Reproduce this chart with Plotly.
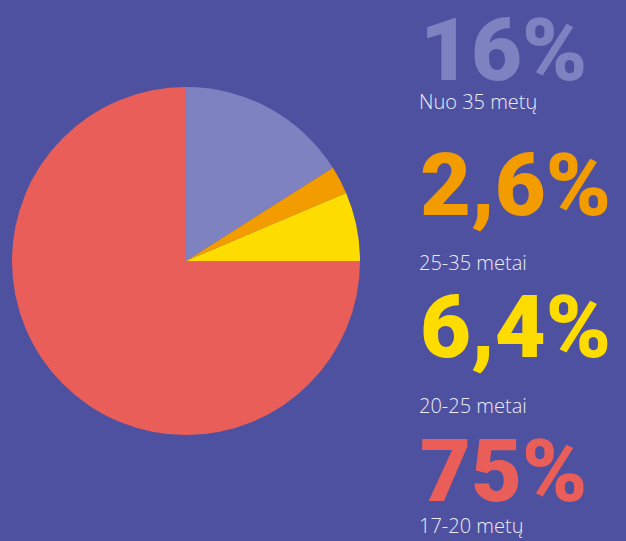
import plotly.graph_objects as go

categories = ["Nuo 35 metų", "25-35 metai", "20-25 metai", "17-20 metų"]
shares = [16, 2.6, 6.4, 75]
share_labels = ["16%", "2,6%", "6,4%", "75%"]
colors = ["#7e82c0", "#f39c00", "#ffdc00", "#e95e59"]

W, H = 626, 541
bg = "#4e51a0"

fig = go.Figure(go.Pie(
    labels=categories, values=shares, sort=False, direction="clockwise",
    rotation=0, marker=dict(colors=colors, line=dict(width=0)),
    textinfo="none", hoverinfo="label+percent",
    domain=dict(x=[12 / W, 360 / W], y=[1 - 435 / H, 1 - 87 / H]),
))

num_y = [49, 184, 326, 470]
lab_y = [102, 263, 405, 525]
anns = []
for i in range(4):
    anns.append(dict(
        text=share_labels[i], x=418 / W, y=1 - num_y[i] / H, xref="paper", yref="paper",
        xanchor="left", yanchor="middle", showarrow=False,
        font=dict(family="Roboto", size=88, color=colors[i], weight=900),
    ))
    anns.append(dict(
        text=categories[i], x=417 / W, y=1 - lab_y[i] / H, xref="paper", yref="paper",
        xanchor="left", yanchor="middle", showarrow=False,
        font=dict(family="Open Sans", size=20, color="#ececf6", weight=300),
    ))

fig.update_layout(
    width=W, height=H, margin=dict(l=0, r=0, t=0, b=0),
    paper_bgcolor=bg, plot_bgcolor=bg, showlegend=False,
    annotations=anns,
)
fig.write_html(
    "out.html",
    config={"displayModeBar": False},
    post_script="document.body.style.margin='0';document.body.style.background='" + bg + "';",
)
